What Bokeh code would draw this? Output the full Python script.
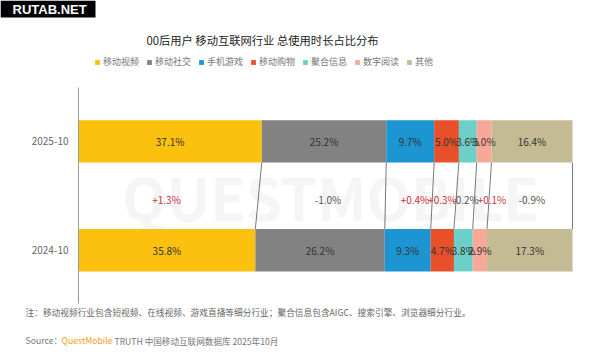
import numpy as np
from bokeh.plotting import figure
from bokeh.models import (ColumnDataSource, Label, Legend, LegendItem, FixedTicker, Range1d,
                          BoxAnnotation)
from bokeh.embed import file_html
from bokeh.resources import INLINE
from bokeh.core.properties import value

# ---------------- data ----------------
categories = ["移动视频", "移动社交", "手机游戏", "移动购物", "聚合信息", "数字阅读", "其他"]
share_2025 = [37.1, 25.2, 9.7, 5.0, 3.6, 3.0, 16.4]
share_2024 = [35.8, 26.2, 9.3, 4.7, 3.8, 2.9, 17.3]
periods = ["2025-10", "2024-10"]
colors = ["#FBC10E", "#828282", "#1C95D2", "#E8502A", "#6CCFC8", "#F7A898", "#C4BB94"]

title_text = "00后用户 移动互联网行业 总使用时长占比分布"
note_text = "注：移动视频行业包含短视频、在线视频、游戏直播等细分行业；聚合信息包含AIGC、搜索引擎、浏览器细分行业。"

FONT = "Noto Sans CJK SC"
Y25, Y24, YD = 2.0, 0.0, 1.0
BAR_H = 0.78
DIFF_NUDGE_PX = [-2, 6, 6, -2, 0, 10, 1]   # label nudges (style) to avoid overlaps

s25 = np.array(share_2025)
s24 = np.array(share_2024)
c25 = np.cumsum(s25); l25 = c25 - s25
c24 = np.cumsum(s24); l24 = c24 - s24

W, H = 584, 348
p = figure(width=W, height=H, x_range=Range1d(-15.79, 102.43), y_range=Range1d(-1.807, 4.590),
           output_backend="svg", toolbar_location=None, x_axis_type=None,
           min_border=0, min_border_left=0, min_border_right=0, min_border_top=0, min_border_bottom=0)
p.grid.visible = False
p.outline_line_color = None
p.background_fill_color = "white"
p.border_fill_color = "white"

# watermark
p.add_layout(Label(x=330, y=153, x_units="screen", y_units="screen", text="QUESTMOBILE",
                   text_font=FONT, text_font_size="58px", text_font_style="bold",
                   text_color="#f5f5f5", text_align="center", text_baseline="middle",
                   level="underlay"))

# bars
items = []
for i, cat in enumerate(categories):
    src = ColumnDataSource(dict(y=[Y25, Y24], left=[l25[i], l24[i]], right=[c25[i], c24[i]]))
    r = p.hbar(y="y", left="left", right="right", height=BAR_H, source=src,
               fill_color=colors[i], line_color=None)
    items.append(LegendItem(label=cat, renderers=[r]))

# connecting lines
p.segment(x0=list(c25), y0=[Y25 - BAR_H / 2] * len(c25), x1=list(c24), y1=[Y24 + BAR_H / 2] * len(c24),
          line_color="#555555", line_width=0.8)

# bar value labels
bx = list((l25 + c25) / 2) + list((l24 + c24) / 2)
by = [Y25] * len(s25) + [Y24] * len(s24)
bt = [f"{v:.1f}%" for v in share_2025] + [f"{v:.1f}%" for v in share_2024]
p.text(x=bx, y=by, text=bt, text_font=value(FONT), text_font_size="10px", text_color="#333333",
       text_align="center", text_baseline="middle")

# difference labels
diff = np.round(s25 - s24, 1)
dsrc = ColumnDataSource(dict(
    x=list(((l25 + c25) / 2 + (l24 + c24) / 2) / 2),
    y=[YD] * len(diff),
    text=[f"{d:+.1f}%" for d in diff],
    color=["#D0303C" if d > 0 else "#555555" for d in diff],
    nudge=DIFF_NUDGE_PX,
))
p.text(x="x", y="y", text="text", text_color="color", x_offset="nudge", source=dsrc,
       text_font=value(FONT), text_font_size="10px", text_align="center",
       text_baseline="middle", y_offset=4)

# y axis (drawn at x = 0 inside the frame)
ax = p.yaxis[0]
ax.fixed_location = 0
ax.bounds = (-0.985, 2.99)
ax.ticker = FixedTicker(ticks=[Y24, Y25])
ax.major_label_overrides = {Y25: periods[0], Y24: periods[1]}
ax.major_tick_line_color = None
ax.major_tick_out = 0
ax.major_tick_in = 0
ax.minor_tick_line_color = None
ax.axis_line_color = "#9a9a9a"
ax.major_label_standoff = 10
ax.major_label_text_font = FONT
ax.major_label_text_font_size = "10px"
ax.major_label_text_color = "#666666"

# legend
leg = Legend(items=items, orientation="horizontal", location=(94, 280),
             glyph_width=6, glyph_height=6, label_standoff=3, spacing=7,
             label_text_font=FONT, label_text_font_size="9px", label_text_color="#777777",
             label_height=10, padding=0, margin=0, border_line_color=None,
             background_fill_alpha=0)
p.add_layout(leg, "center")

# title
p.add_layout(Label(x=262, y=309, x_units="screen", y_units="screen", text=title_text,
                   text_font=FONT, text_font_size="11.3px", text_color="#222222",
                   text_align="center", text_baseline="middle"))

# note & source
p.add_layout(Label(x=25, y=36, x_units="screen", y_units="screen", text=note_text,
                   text_font=FONT, text_font_size="8.7px", text_color="#666666",
                   text_align="left", text_baseline="middle"))
p.add_layout(Label(x=25, y=8, x_units="screen", y_units="screen", text="Source：",
                   text_font=FONT, text_font_size="8.7px", text_color="#777777",
                   text_align="left", text_baseline="middle"))
p.add_layout(Label(x=61, y=8, x_units="screen", y_units="screen", text="QuestMobile",
                   text_font=FONT, text_font_size="8.7px", text_color="#F0A020",
                   text_align="left", text_baseline="middle"))
p.add_layout(Label(x=114, y=8, x_units="screen", y_units="screen", text="TRUTH 中国移动互联网数据库 2025年10月",
                   text_font=FONT, text_font_size="8.6px", text_color="#777777",
                   text_align="left", text_baseline="middle"))

# site badge
p.add_layout(BoxAnnotation(left=0, right=95, bottom=H - 17, top=H, left_units="screen",
                           right_units="screen", bottom_units="screen", top_units="screen",
                           fill_color="black", fill_alpha=1, line_color=None, level="overlay"))
p.add_layout(Label(x=12, y=H - 8.5, x_units="screen", y_units="screen", text="RUTAB.NET",
                   text_font="Liberation Sans", text_font_size="13px", text_font_style="bold",
                   text_color="white", text_align="left", text_baseline="middle", level="overlay"))

open("out.html", "w").write(file_html(p, INLINE))
